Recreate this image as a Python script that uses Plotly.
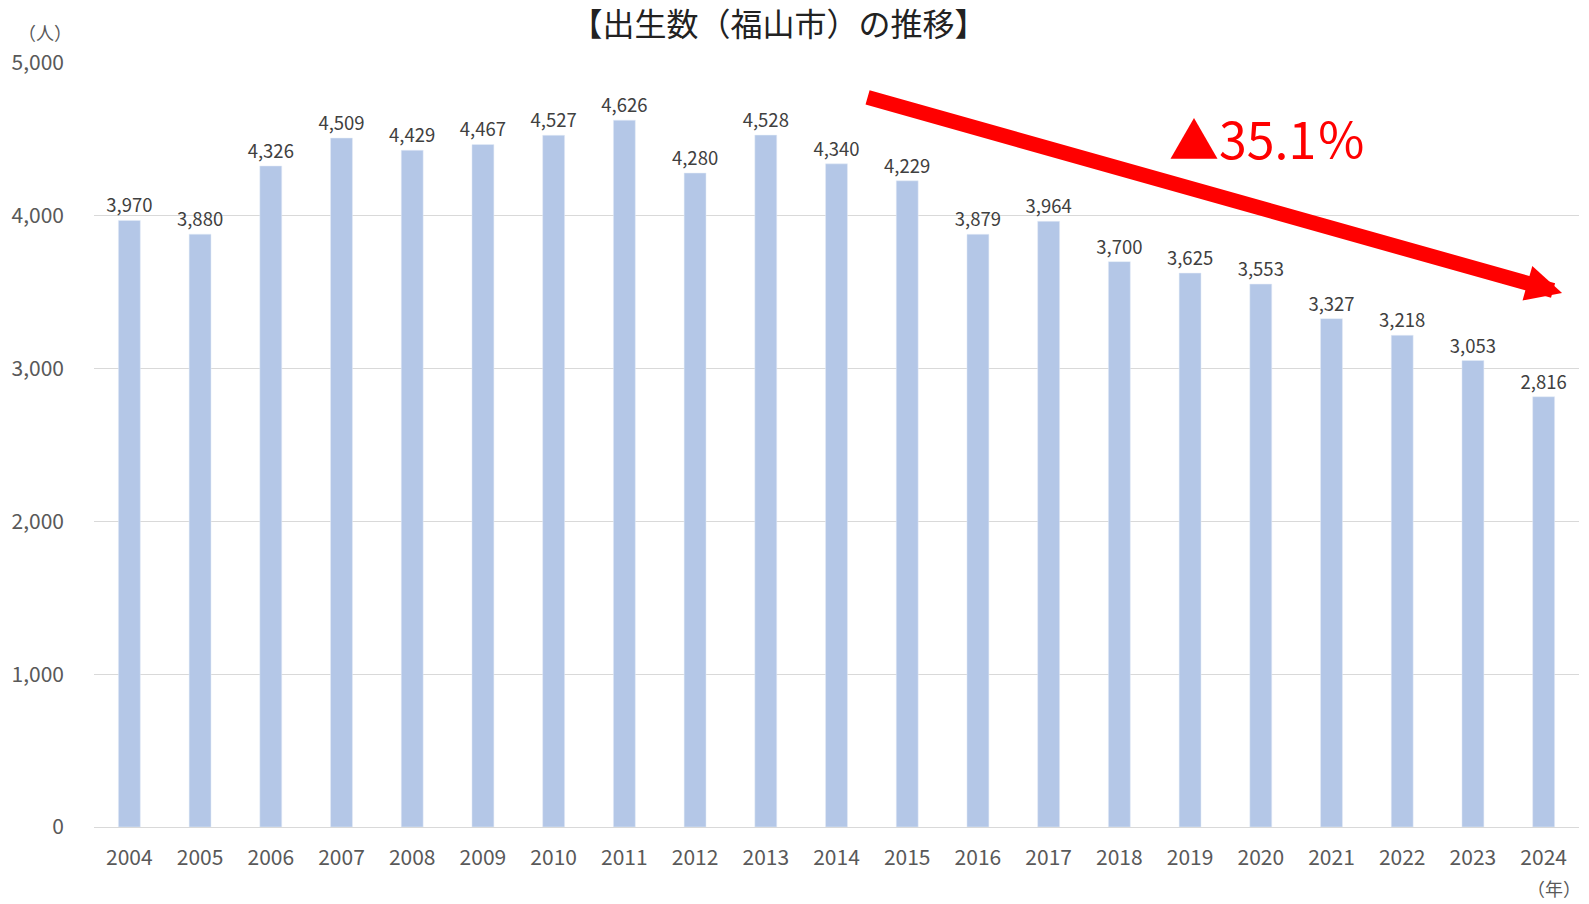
import plotly.graph_objects as go

years = [str(y) for y in range(2004, 2025)]
births = [3970, 3880, 4326, 4509, 4429, 4467, 4527, 4626, 4280, 4528, 4340,
          4229, 3879, 3964, 3700, 3625, 3553, 3327, 3218, 3053, 2816]

title = "【出生数（福山市）の推移】"
y_unit = "（人）"
x_unit = "（年）"
change_label = "▲35.1％"

FONT = "Noto Sans CJK JP"

fig = go.Figure()
fig.add_bar(x=years, y=births, marker_color="#b4c7e7",
            text=[f"{v:,}" for v in births], textposition="outside",
            constraintext="none",
            textfont=dict(size=18.5, color="#404040", family=FONT),
            cliponaxis=False)

fig.update_layout(
    width=1589, height=904,
    margin=dict(l=94, r=10, t=63, b=77),
    paper_bgcolor="white", plot_bgcolor="white",
    font=dict(family=FONT, color="#595959"),
    bargap=0.69, showlegend=False,
    title=dict(text=title, x=0.490, xanchor="center", y=0.973, yanchor="middle",
               font=dict(size=32, color="#222222", family=FONT)),
    xaxis=dict(showgrid=False, showline=True, linecolor="#d9d9d9", linewidth=1,
               tickfont=dict(size=21, color="#595959"), ticks="",
               ticklabelstandoff=12),
    yaxis=dict(range=[0, 5000], dtick=1000, tickformat=",", showgrid=True,
               gridcolor="#d9d9d9", gridwidth=1, zeroline=False,
               tickfont=dict(size=21, color="#595959"), ticklabelstandoff=29),
)

fig.add_annotation(text=y_unit, xref="paper", yref="paper", x=-0.033, y=1.04,
                   xanchor="center", yanchor="middle",
                   showarrow=False, font=dict(size=18, color="#595959"))
fig.add_annotation(text=x_unit, xref="paper", yref="paper", x=0.983, y=-0.08,
                   xanchor="center", yanchor="middle",
                   showarrow=False, font=dict(size=18, color="#595959"))

# trend arrow
fig.add_annotation(x=0.9886, y=0.699, xref="paper", yref="paper",
                   ax=-696, ay=-196, axref="pixel", ayref="pixel",
                   showarrow=True, arrowhead=2, arrowsize=0.48, arrowwidth=15,
                   arrowcolor="#ff0000", text="")
fig.add_annotation(text=change_label, xref="paper", yref="paper",
                   x=0.790, y=0.903, xanchor="center", yanchor="middle",
                   showarrow=False,
                   font=dict(size=50, color="#ff0000", family=FONT))

fig.write_html("out.html", config={"displayModeBar": False},
               post_script="document.body.style.margin='0';")
